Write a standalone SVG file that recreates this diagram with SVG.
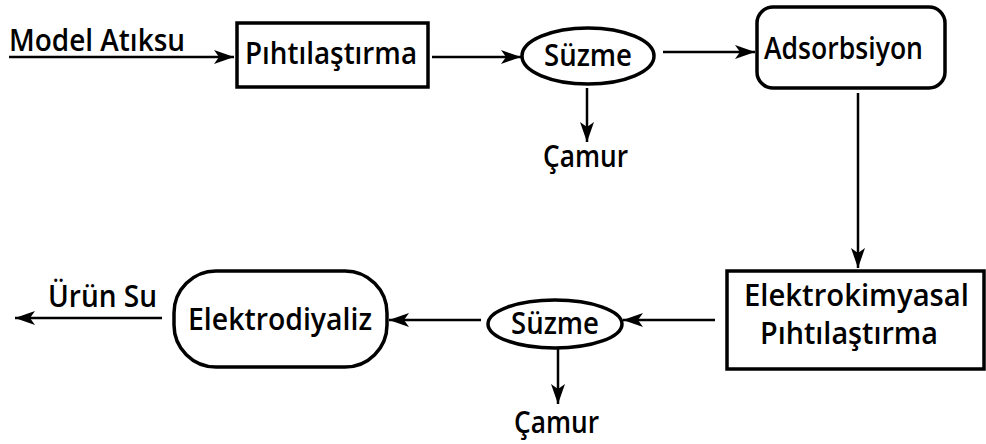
<svg xmlns="http://www.w3.org/2000/svg" width="986" height="444" viewBox="0 0 986 444">
<style>
.bg{fill:#fff}
.box{fill:#fff;stroke:#000;stroke-width:3.5}
.lbl{font-family:"Open Sans","Noto Sans","DejaVu Sans",sans-serif;font-weight:600;font-size:31px;fill:#000}
.con{stroke:#000;stroke-width:2.5;fill:none}
</style>
<defs>
<marker id="ah" markerUnits="userSpaceOnUse" markerWidth="22" markerHeight="16" refX="20" refY="8" orient="auto">
<path d="M0,1 L20,8 L0,15 L5,8 Z" fill="#000"/>
</marker>
</defs>
<rect class="bg" x="0" y="0" width="986" height="444"/>
<g id="connectors">
<line class="con" x1="9" y1="57" x2="234" y2="57" marker-end="url(#ah)"/>
<line class="con" x1="432" y1="57" x2="521" y2="57" marker-end="url(#ah)"/>
<line class="con" x1="587" y1="88" x2="587" y2="142" marker-end="url(#ah)"/>
<line class="con" x1="663" y1="52" x2="755" y2="52" marker-end="url(#ah)"/>
<line class="con" x1="858" y1="93" x2="858" y2="268" marker-end="url(#ah)"/>
<line class="con" x1="715" y1="320" x2="623" y2="320" marker-end="url(#ah)"/>
<line class="con" x1="558" y1="349" x2="558" y2="404" marker-end="url(#ah)"/>
<line class="con" x1="481" y1="320" x2="389" y2="320" marker-end="url(#ah)"/>
<line class="con" x1="162" y1="318" x2="15" y2="318" marker-end="url(#ah)"/>
</g>
<g id="model-atiksu"><text class="lbl" x="9" y="51" textLength="176" lengthAdjust="spacingAndGlyphs">Model Atıksu</text></g>
<g id="pihtilastirma">
<rect class="box" x="237" y="23" width="191" height="64"/>
<text class="lbl" x="245" y="64" textLength="172" lengthAdjust="spacingAndGlyphs">Pıhtılaştırma</text>
</g>
<g id="suzme1">
<ellipse class="box" cx="588" cy="56" rx="66" ry="28"/>
<text class="lbl" x="544" y="66" textLength="88" lengthAdjust="spacingAndGlyphs">Süzme</text>
</g>
<g id="camur1"><text class="lbl" x="543" y="167" textLength="85" lengthAdjust="spacingAndGlyphs">Çamur</text></g>
<g id="adsorbsiyon">
<rect class="box" x="757" y="7" width="188" height="81" rx="16" ry="16"/>
<text class="lbl" x="764" y="59" textLength="159" lengthAdjust="spacingAndGlyphs">Adsorbsiyon</text>
</g>
<g id="elektrokimyasal">
<rect class="box" x="727" y="271" width="257" height="98"/>
<text class="lbl" x="744" y="306" textLength="225" lengthAdjust="spacingAndGlyphs">Elektrokimyasal</text>
<text class="lbl" x="760" y="344" textLength="178" lengthAdjust="spacingAndGlyphs">Pıhtılaştırma</text>
</g>
<g id="suzme2">
<ellipse class="box" cx="555" cy="324" rx="67" ry="24"/>
<text class="lbl" x="511" y="334" textLength="88" lengthAdjust="spacingAndGlyphs">Süzme</text>
</g>
<g id="camur2"><text class="lbl" x="514" y="433" textLength="85" lengthAdjust="spacingAndGlyphs">Çamur</text></g>
<g id="elektrodiyaliz">
<rect class="box" x="174" y="271" width="213" height="96" rx="42" ry="42"/>
<text class="lbl" x="188" y="330" textLength="184" lengthAdjust="spacingAndGlyphs">Elektrodiyaliz</text>
</g>
<g id="urun-su"><text class="lbl" x="48" y="307" textLength="109" lengthAdjust="spacingAndGlyphs">Ürün Su</text></g>
</svg>
